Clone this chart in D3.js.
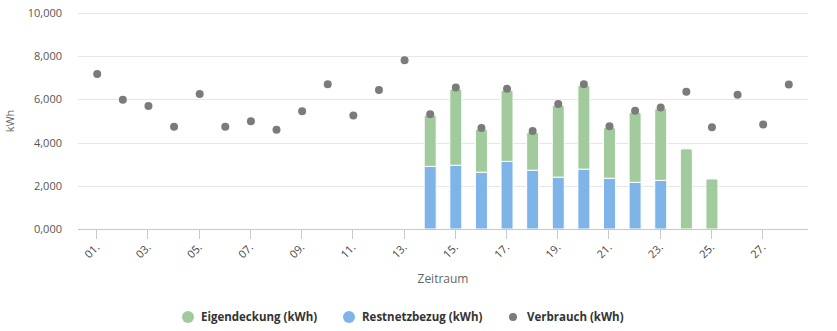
<!DOCTYPE html>
<html>
<head>
<meta charset="utf-8">
<script src="https://cdn.jsdelivr.net/npm/d3@7"></script>
<style>
  html, body { margin: 0; padding: 0; background: #fff; }
  svg { display: block; font-family: "Open Sans", "DejaVu Sans", sans-serif; }
</style>
</head>
<body>
<svg id="chart" width="837" height="331"></svg>
<script>
// ---- data ----
const days = d3.range(1, 29);
const dayLabels = ["01.","02.","03.","04.","05.","06.","07.","08.","09.","10.","11.","12.","13.","14.","15.","16.","17.","18.","19.","20.","21.","22.","23.","24.","25.","26.","27.","28."];
// Restnetzbezug (kWh), null = no bar
const restnetzbezug = [null,null,null,null,null,null,null,null,null,null,null,null,null,2900,2950,2630,3130,2720,2400,2770,2350,2160,2250,null,null,null,null,null];
// Eigendeckung (kWh)
const eigendeckung = [null,null,null,null,null,null,null,null,null,null,null,null,null,2380,3530,1990,3300,1760,3330,3880,2350,3250,3340,3710,2320,null,null,null];
// Verbrauch (kWh)
const verbrauch = [7180,5980,5690,4730,6250,4730,4990,4590,5450,6700,5250,6440,7810,5310,6550,4680,6490,4540,5790,6700,4760,5470,5620,6350,4710,6210,4840,6690];
const yTicks = [0, 2000, 4000, 6000, 8000, 10000];
const yTickLabels = ["0,000", "2,000", "4,000", "6,000", "8,000", "10,000"];
const xTickDays = [1,3,5,7,9,11,13,15,17,19,21,23,25,27];

const colors = { eig: "#a1cb9c", rest: "#7fb4e9", verb: "#7b7b7b" };

(function () {
const svg = d3.select("#chart");
const pL = 78, pR = 808, pT = 13, pB = 229;

const x = d3.scaleLinear().domain([0.25, 28.75]).range([pL, pR]);
const y = d3.scaleLinear().domain([0, 10000]).range([pB, pT]);

// gridlines
svg.append("g").selectAll("line").data(yTicks.filter(d => d > 0)).join("line")
  .attr("x1", pL).attr("x2", pR)
  .attr("y1", d => Math.round(y(d)) + 0.5).attr("y2", d => Math.round(y(d)) + 0.5)
  .attr("stroke", "#e6e6e6").attr("stroke-width", 1);

// y labels
svg.append("g").selectAll("text").data(yTicks).join("text")
  .attr("x", 62).attr("y", d => y(d) + 4)
  .attr("text-anchor", "end")
  .attr("font-size", 11).attr("fill", "#555")
  .text((d, i) => yTickLabels[i]);

// y title
svg.append("text")
  .attr("transform", `translate(14, ${(pT + pB) / 2}) rotate(-90)`)
  .attr("text-anchor", "middle")
  .attr("font-size", 11).attr("fill", "#666")
  .text("kWh");

// bars
const barW = 12;
const gBars = svg.append("g");
days.forEach((d, i) => {
  const r = restnetzbezug[i] || 0;
  const e = eigendeckung[i] || 0;
  const cx = x(d);
  if (r > 0) {
    gBars.append("rect")
      .attr("x", cx - barW / 2).attr("width", barW)
      .attr("y", y(r)).attr("height", y(0) - y(r))
      .attr("fill", colors.rest).attr("stroke", "#fff").attr("stroke-width", 1);
  }
  if (e > 0) {
    const y0 = y(r), y1 = y(r + e);
    const rr = 2;
    const xl = cx - barW / 2, xr = cx + barW / 2;
    gBars.append("path")
      .attr("d", `M${xl},${y0} L${xl},${y1 + rr} Q${xl},${y1} ${xl + rr},${y1} L${xr - rr},${y1} Q${xr},${y1} ${xr},${y1 + rr} L${xr},${y0} Z`)
      .attr("fill", colors.eig).attr("stroke", "#fff").attr("stroke-width", 1);
  }
});

// x axis line
svg.append("line")
  .attr("x1", pL).attr("x2", pR)
  .attr("y1", pB + 0.5).attr("y2", pB + 0.5)
  .attr("stroke", "#c8c8c8").attr("stroke-width", 1);

// x ticks
svg.append("g").selectAll("line").data(xTickDays).join("line")
  .attr("x1", d => Math.round(x(d)) - 0.5).attr("x2", d => Math.round(x(d)) - 0.5)
  .attr("y1", pB).attr("y2", pB + 10)
  .attr("stroke", "#c8c8c8").attr("stroke-width", 1);

// x labels
svg.append("g").selectAll("text").data(xTickDays).join("text")
  .attr("transform", d => `translate(${x(d) + 3}, ${pB + 19}) rotate(-45)`)
  .attr("text-anchor", "end")
  .attr("font-size", 11).attr("fill", "#444")
  .text(d => dayLabels[d - 1]);

// x title
svg.append("text")
  .attr("x", (pL + pR) / 2).attr("y", 283)
  .attr("text-anchor", "middle")
  .attr("font-size", 12).attr("fill", "#666")
  .text("Zeitraum");

// dots
svg.append("g").selectAll("circle").data(days).join("circle")
  .attr("cx", d => x(d)).attr("cy", (d, i) => y(verbrauch[i]))
  .attr("r", 4).attr("fill", colors.verb);

// legend
const legend = [
  { label: "Eigendeckung (kWh)", color: colors.eig, r: 6, cx: 188, tx: 201 },
  { label: "Restnetzbezug (kWh)", color: colors.rest, r: 6, cx: 349, tx: 362 },
  { label: "Verbrauch (kWh)", color: colors.verb, r: 4, cx: 513, tx: 527 }
];
const gl = svg.append("g");
legend.forEach(l => {
  gl.append("circle").attr("cx", l.cx).attr("cy", 317).attr("r", l.r).attr("fill", l.color);
  gl.append("text").attr("x", l.tx).attr("y", 321)
    .attr("font-size", 11.5).attr("font-weight", "bold").attr("fill", "#333")
    .text(l.label);
});
})();
</script>
</body>
</html>
